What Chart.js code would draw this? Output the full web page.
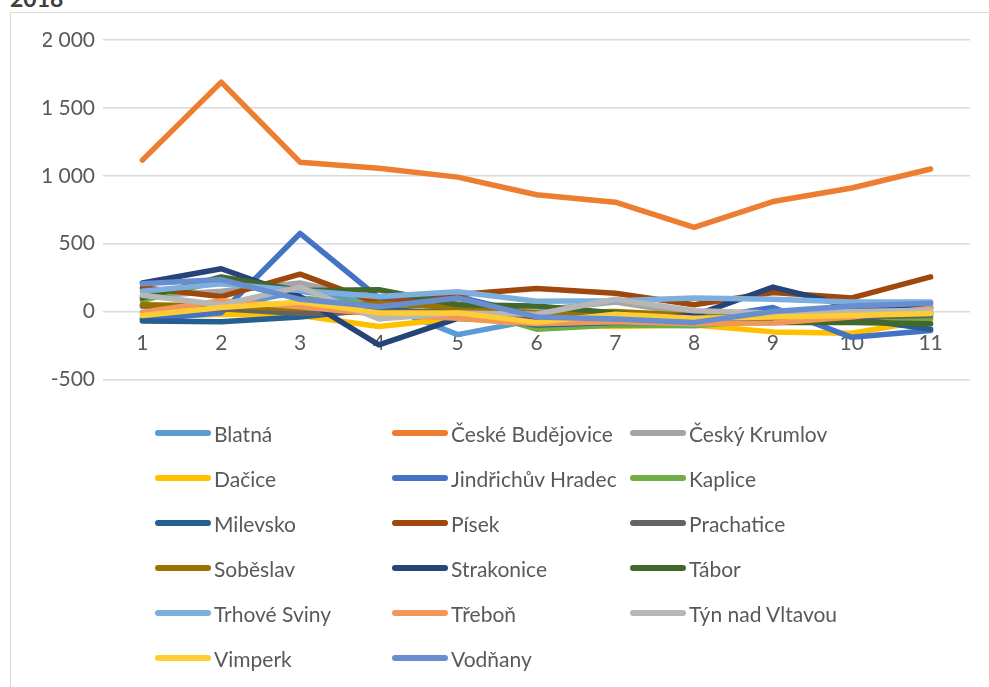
<!DOCTYPE html>
<html>
<head>
<meta charset="utf-8">
<title>2018</title>
<script src="https://cdn.jsdelivr.net/npm/chart.js@4/dist/chart.umd.min.js"></script>
<style>
  html, body { margin: 0; padding: 0; background: #fff; overflow: hidden; }
  body { width: 989px; height: 687px; position: relative; font-family: Lato, "Open Sans", sans-serif; }
  #frame { position: absolute; left: 10px; top: 12px; width: 990px; height: 700px; border: 1px solid #d9d9d9; box-sizing: border-box; }
  #title { position: absolute; left: 10px; top: -13px; font-size: 23px; line-height: 22px; font-weight: bold; color: #404040; }
  #chartBox { position: absolute; left: 0; top: 0; width: 989px; height: 400px; }
  #legend { position: absolute; left: 0; top: 0; width: 989px; height: 687px; pointer-events: none; }
  .item { position: absolute; height: 24px; display: flex; align-items: center; color: #595959; font-size: 21px; white-space: nowrap; }
  .swatch { width: 56px; height: 6px; border-radius: 3px; margin-right: 3px; }
</style>
</head>
<body>
<div id="frame"></div>
<div id="title">2018</div>
<div id="chartBox"><canvas id="lineChart" width="989" height="400"></canvas></div>
<div id="legend"></div>
<script>
// Data
const categories = ['1', '2', '3', '4', '5', '6', '7', '8', '9', '10', '11'];
const yTicks = [-500, 0, 500, 1000, 1500, 2000];

const names = [
  'Blatná', 'České Budějovice', 'Český Krumlov',
  'Dačice', 'Jindřichův Hradec', 'Kaplice',
  'Milevsko', 'Písek', 'Prachatice',
  'Soběslav', 'Strakonice', 'Tábor',
  'Trhové Sviny', 'Třeboň', 'Týn nad Vltavou',
  'Vimperk', 'Vodňany'
];

const blatna = [-50, 30, 150, 60, -170, -60, -50, -70, -30, -40, -20];
const ceskeBudejovice = [1115, 1690, 1100, 1055, 990, 860, 805, 620, 810, 910, 1050];
const ceskyKrumlov = [110, 150, 210, 80, 60, 10, 70, -20, -10, 10, 20];
const dacice = [-40, -20, -30, -110, -50, -95, -110, -100, -150, -160, -60];
const jindrichuvHradec = [-60, -10, 575, 100, 110, -30, -40, -60, 30, -190, -140];
const kaplice = [80, 230, 100, 50, 40, -130, -100, -105, -60, -70, -50];
const milevsko = [-70, -75, -40, 20, -20, -100, -80, -80, -60, -50, -130];
const pisek = [175, 110, 275, 60, 125, 170, 135, 50, 140, 100, 255];
const prachatice = [40, 20, -15, 0, 0, -60, -50, -80, -50, -40, -30];
const sobeslav = [50, 40, 20, 60, 30, -10, 0, -30, -20, -30, -10];
const strakonice = [210, 315, 110, -245, -50, -70, -60, -30, 180, 35, 30];
const tabor = [100, 255, 155, 160, 50, 40, -10, -80, -80, -80, -90];
const trhoveSviny = [150, 205, 155, 110, 145, 75, 80, 100, 90, 70, 70];
const trebon = [-5, 80, 35, -20, -50, -90, -75, -90, -85, -40, 25];
const tynNadVltavou = [120, 50, 180, -55, -10, -20, 90, 5, -10, 0, 10];
const vimperk = [-30, 30, 70, -10, -10, -80, -20, -50, -40, -30, -15];
const vodnany = [205, 235, 90, 35, 100, -40, -55, -80, 0, 40, 60];

const seriesValues = [
  blatna, ceskeBudejovice, ceskyKrumlov,
  dacice, jindrichuvHradec, kaplice,
  milevsko, pisek, prachatice,
  sobeslav, strakonice, tabor,
  trhoveSviny, trebon, tynNadVltavou,
  vimperk, vodnany
];

// Office palette
const colors = [
  '#5B9BD5', '#ED7D31', '#A5A5A5',
  '#FFC000', '#4472C4', '#70AD47',
  '#255E91', '#9E480E', '#636363',
  '#997300', '#264478', '#43682B',
  '#7CAFDD', '#F1975A', '#B7B7B7',
  '#FFCD33', '#698ED0'
];

// Format numbers with a space as thousands separator
function formatNumber(v) {
  return String(v).replace(/\B(?=(\d{3})+(?!\d))/g, ' ');
}

// Build the chart
function loadChart() {
  const ctx = document.getElementById('lineChart');

  const datasets = names.map((name, i) => ({
    label: name,
    data: seriesValues[i],
    borderColor: colors[i],
    backgroundColor: colors[i],
    borderWidth: 5.5,
    pointRadius: 0,
    pointHoverRadius: 0,
    tension: 0,
    borderJoinStyle: 'round',
    borderCapStyle: 'round',
    fill: false,
    // later series are drawn on top, like Excel
    order: names.length - i
  }));

  new Chart(ctx, {
    type: 'line',
    data: {
      labels: categories,
      datasets: datasets
    },
    options: {
      responsive: false,
      animation: false,
      layout: {
        padding: { left: 43, right: 19, top: 40, bottom: 20 }
      },
      plugins: {
        legend: { display: false },
        tooltip: { enabled: false },
        title: { display: false }
      },
      scales: {
        x: {
          type: 'category',
          position: { y: 0 },
          offset: true,
          grid: { display: false, drawTicks: false },
          border: { display: false },
          ticks: {
            color: '#595959',
            font: { family: 'Lato', size: 21 },
            padding: 19,
            maxRotation: 0,
            autoSkip: false
          }
        },
        y: {
          min: -500,
          max: 2000,
          afterBuildTicks: (scale) => {
            scale.ticks = yTicks.map(v => ({ value: v }));
          },
          afterFit: (scale) => {
            scale.width = 60;
          },
          grid: { color: '#d9d9d9', lineWidth: 1.5, drawTicks: false },
          border: { display: false },
          ticks: {
            color: '#595959',
            font: { family: 'Lato', size: 21 },
            padding: 8,
            callback: (v) => formatNumber(v)
          }
        }
      }
    }
  });
}

// Legend in three columns, built from the same arrays
function loadLegend() {
  const legend = document.getElementById('legend');
  const colX = [155, 392, 630];
  const rowY = [433, 478, 523, 568, 613, 658];
  legend.innerHTML = names.map((name, i) => {
    const left = colX[i % 3];
    const top = rowY[Math.floor(i / 3)] - 12;
    return `
      <div class="item" style="left:${left}px;top:${top}px">
        <div class="swatch" style="background:${colors[i]}"></div>${name}
      </div>`;
  }).join('');
}

loadChart();
loadLegend();
</script>
</body>
</html>
